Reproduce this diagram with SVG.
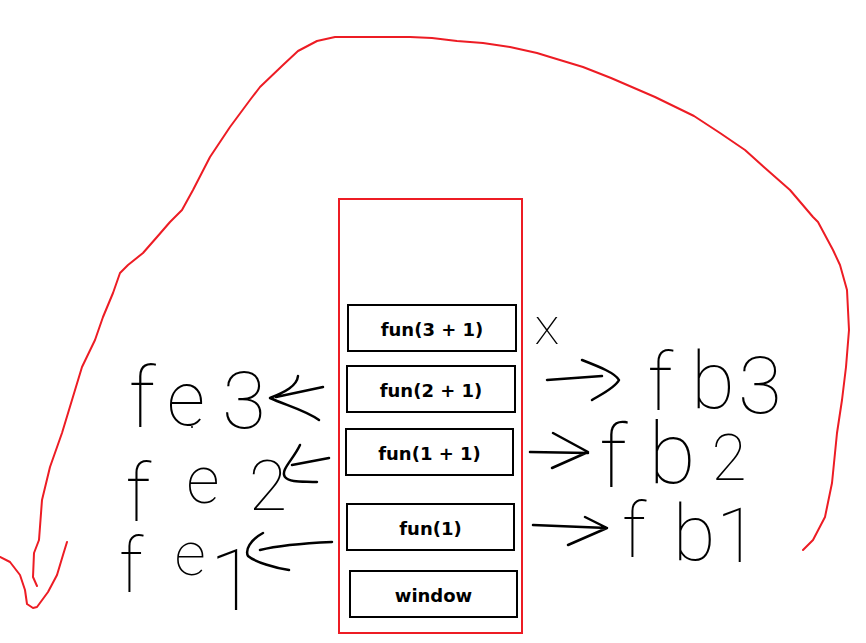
<svg xmlns="http://www.w3.org/2000/svg" width="866" height="643" viewBox="0 0 866 643">
<style>
  .frame{fill:none;stroke:#ed1c24;stroke-width:2}
  .box rect{fill:#fff;stroke:#000;stroke-width:2}
  .box text{font-family:"DejaVu Sans",Verdana,sans-serif;font-weight:bold;font-size:18px;fill:#000;text-anchor:middle}
  .red{fill:none;stroke:#ed1c24;stroke-width:2;stroke-linejoin:round;stroke-linecap:round}
  .ink{fill:none;stroke:#000;stroke-width:2.5;stroke-linejoin:round;stroke-linecap:round}
  .hand{font-family:Roboto,Lato,"Noto Sans",sans-serif;font-weight:100;fill:#000;text-anchor:middle}
</style>
<rect width="866" height="643" fill="#fff"/>
<g id="stack">
  <rect class="frame" x="339" y="199" width="183" height="434"/>
</g>
<g id="node-fun3" class="box"><rect x="348" y="305" width="168" height="46"/><text x="432" y="335.5">fun(3 + 1)</text></g>
<g id="node-fun2" class="box"><rect x="347" y="366" width="168" height="46"/><text x="431" y="396.5">fun(2 + 1)</text></g>
<g id="node-fun1p1" class="box"><rect x="346" y="429" width="167" height="46"/><text x="429.5" y="460">fun(1 + 1)</text></g>
<g id="node-fun1" class="box"><rect x="347" y="504" width="167" height="46"/><text x="430.5" y="535">fun(1)</text></g>
<g id="node-window" class="box"><rect x="350" y="571" width="167" height="46"/><text x="433.5" y="601.5">window</text></g>

<g id="labels">
  <text class="hand"><tspan x="142" y="427" font-size="84">f</tspan><tspan x="186" y="425" font-size="76">e</tspan><tspan x="244" y="428" font-size="80">3</tspan></text>
  <text class="hand"><tspan x="138" y="521" font-size="80">f</tspan><tspan x="203" y="503" font-size="66">e</tspan><tspan x="268" y="510" font-size="70">2</tspan></text>
  <text class="hand"><tspan x="131" y="592" font-size="76">f</tspan><tspan x="190" y="575" font-size="62">e</tspan><tspan x="233" y="610" font-size="86">1</tspan></text>
  <text class="hand" x="547" y="344" font-size="52">x</text>
  <text class="hand"><tspan x="660" y="410" font-size="80">f</tspan><tspan x="713" y="408" font-size="80">b</tspan><tspan x="760" y="413" font-size="80">3</tspan></text>
  <text class="hand"><tspan x="613" y="487" font-size="88">f</tspan><tspan x="672" y="483" font-size="86">b</tspan><tspan x="729" y="480" font-size="64">2</tspan></text>
  <text class="hand"><tspan x="634" y="557" font-size="76">f</tspan><tspan x="694" y="560" font-size="78">b</tspan><tspan x="737" y="562" font-size="76">1</tspan></text>
  <circle cx="192" cy="427" r="1" fill="#000"/>
</g>

<g id="connectors">
  <path class="ink" d="M298,376 C297,386 285,392 270,398 C285,405 305,410 319,420 M276,397 L323,387"/>
  <path class="ink" d="M300,445 C293,460 280,470 285,477 C290,483 305,481 317,482 M292,465 L329,458"/>
  <path class="ink" d="M263,533 C250,540 245,550 248,556 C255,562 275,568 289,570 M260,550 C280,545 310,543 332,542"/>
  <path class="ink" d="M547,380 L602,376 M582,360 C600,367 615,373 619,380 C615,388 600,395 592,400"/>
  <path class="ink" d="M530,452 L588,453 M553,433 L588,452 L552,468"/>
  <path class="ink" d="M533,525 L607,528 M585,517 L607,528 L568,545"/>
  <path class="red" d="M803,550 L813,540 L825,517 L832,483 L837,433 L842,400 L846,367 L849,330 L847,290 L840,265 L833,250 L818,222 L813,217 L790,190 L765,168 L745,150 L720,133 L694,116 L655,97 L611,78 L583,67 L550,57 L537,53 L510,47 L483,43 L457,41 L432,38 L410,37 L335,37 L317,41 L298,51 L283,65 L260,87 L250,100 L230,127 L210,157 L193,190 L182,210 L170,222 L157,237 L143,253 L128,265 L120,273 L113,293 L103,317 L95,340 L82,367 L72,400 L62,433 L50,467 L42,500 L39,540 L34,553 L33,577 L37,586"/>
  <path class="red" d="M0,557 L10,562 L20,575 L25,590 L27,604 L33,608 L37,607 L48,592 L57,575 L63,555 L67,542"/>
</g>
</svg>
